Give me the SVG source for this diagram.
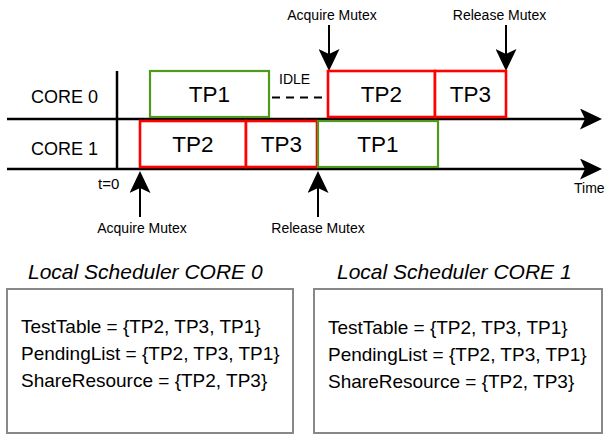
<svg xmlns="http://www.w3.org/2000/svg" width="609" height="435" viewBox="0 0 609 435">
<style>
text{font-family:"Liberation Sans",Arial,sans-serif;fill:#000}
.lbl{font-size:14px}
.core{font-size:18px}
.tp{font-size:22.5px;text-anchor:middle}
.red{fill:#fff;stroke:#ff0000;stroke-width:2.6}
.grn{fill:#fff;stroke:#4f9a1c;stroke-width:2.2}
.ax{stroke:#000;stroke-width:2.5;fill:none}
.arr{stroke:#000;stroke-width:2;fill:none}
.box{fill:#fff;stroke:#888;stroke-width:2}
.ttl{font-size:21px;font-style:italic}
.body{font-size:19px}
.mid{text-anchor:middle}
</style>
<defs>
<marker id="ah" viewBox="0 0 22 21" refX="5" refY="10.5" markerWidth="22" markerHeight="21" markerUnits="userSpaceOnUse" orient="auto">
<path d="M0,0 L22,10.5 L0,21 L5,10.5 Z" fill="#000"/>
</marker>
</defs>
<rect width="609" height="435" fill="#fff"/>

<g id="connectors">
<line class="ax" x1="7" y1="119" x2="585" y2="119" marker-end="url(#ah)"/>
<line class="ax" x1="7" y1="169" x2="585" y2="169" marker-end="url(#ah)"/>
<line class="ax" x1="117" y1="71" x2="117" y2="169"/>
<line class="arr" x1="329" y1="25" x2="329" y2="54" marker-end="url(#ah)"/>
<line class="arr" x1="506" y1="25" x2="506" y2="54" marker-end="url(#ah)"/>
<line class="arr" x1="140" y1="217" x2="140" y2="188" marker-end="url(#ah)"/>
<line class="arr" x1="318" y1="217" x2="318" y2="188" marker-end="url(#ah)"/>
<line x1="272" y1="97.5" x2="322" y2="97.5" stroke="#000" stroke-width="2" stroke-dasharray="8 6"/>
</g>

<g id="core0-label"><text class="core" x="31" y="103">CORE 0</text></g>
<g id="core1-label"><text class="core" x="31" y="155">CORE 1</text></g>

<g id="tp1-core0"><rect class="grn" x="150" y="71" width="119" height="46"/><text class="tp" x="209.5" y="102">TP1</text></g>
<g id="tp2-core0"><rect class="red" x="328" y="71" width="107" height="46"/><text class="tp" x="381.5" y="102">TP2</text></g>
<g id="tp3-core0"><rect class="red" x="435" y="71" width="71" height="46"/><text class="tp" x="470.5" y="102">TP3</text></g>

<g id="tp2-core1"><rect class="red" x="140" y="121" width="106" height="46"/><text class="tp" x="193" y="152">TP2</text></g>
<g id="tp3-core1"><rect class="red" x="246" y="121" width="71" height="46"/><text class="tp" x="281.5" y="152">TP3</text></g>
<g id="tp1-core1"><rect class="grn" x="318" y="121" width="120" height="46"/><text class="tp" x="378" y="152">TP1</text></g>

<g id="labels">
<text class="lbl mid" x="332" y="20">Acquire Mutex</text>
<text class="lbl mid" x="499.5" y="20">Release Mutex</text>
<text class="lbl" x="279" y="84">IDLE</text>
<text class="lbl" x="98" y="189" style="font-size:15px">t=0</text>
<text class="lbl" x="574" y="193">Time</text>
<text class="lbl mid" x="142" y="233">Acquire Mutex</text>
<text class="lbl mid" x="318" y="233">Release Mutex</text>
</g>

<g id="scheduler-core0">
<text class="ttl" x="28" y="279">Local Scheduler CORE 0</text>
<rect class="box" x="7" y="289" width="286" height="144"/>
<text class="body" x="21" y="333">TestTable = {TP2, TP3, TP1}</text>
<text class="body" x="21" y="360">PendingList = {TP2, TP3, TP1}</text>
<text class="body" x="21" y="387">ShareResource = {TP2, TP3}</text>
</g>

<g id="scheduler-core1">
<text class="ttl" x="337" y="279">Local Scheduler CORE 1</text>
<rect class="box" x="314" y="289" width="288" height="144"/>
<text class="body" x="328" y="334">TestTable = {TP2, TP3, TP1}</text>
<text class="body" x="328" y="361">PendingList = {TP2, TP3, TP1}</text>
<text class="body" x="328" y="388">ShareResource = {TP2, TP3}</text>
</g>
</svg>
